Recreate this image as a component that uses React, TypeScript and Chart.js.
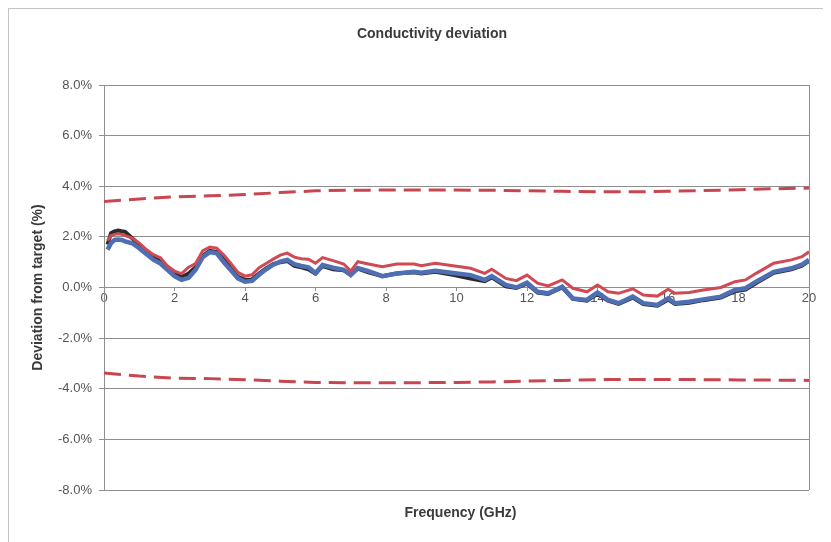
import React, { useEffect, useRef } from "react";
import { Chart, registerables } from "chart.js";

Chart.register(...registerables);

const CHART_TITLE = "Conductivity deviation";
const X_TITLE = "Frequency (GHz)";
const Y_TITLE = "Deviation from target (%)";

const xTicks = [0, 2, 4, 6, 8, 10, 12, 14, 16, 18, 20];
const yTicks = [-8, -6, -4, -2, 0, 2, 4, 6, 8];

const freqGHz = [
  0.1, 0.2, 0.3, 0.4, 0.5, 0.6, 0.8, 1.0, 1.2, 1.4, 1.6, 1.8, 2.0, 2.2, 2.4, 2.6, 2.8, 3.0, 3.2, 3.4,
  3.6, 3.8, 4.0, 4.2, 4.4, 4.6, 4.8, 5.0, 5.2, 5.4, 5.6, 5.8, 6.0, 6.2, 6.5, 6.8, 7.0, 7.2, 7.5, 7.9,
  8.3, 8.8, 9.0, 9.4, 9.9, 10.4, 10.8, 11.0, 11.4, 11.7, 12.0, 12.3, 12.6, 13.0, 13.3, 13.7, 14.0, 14.3,
  14.6, 15.0, 15.3, 15.7, 16.0, 16.2, 16.6, 17.0, 17.5, 17.9, 18.2, 18.5, 19.0, 19.5, 19.8, 20.0,
];

const seriesRed = [
  1.85, 2.05, 2.1, 2.12, 2.1, 2.05, 1.95, 1.75, 1.5, 1.3, 1.18, 0.85, 0.65, 0.55, 0.8, 0.95, 1.45, 1.6, 1.55, 1.28,
  0.95, 0.6, 0.45, 0.5, 0.78, 0.95, 1.12, 1.28, 1.36, 1.2, 1.14, 1.12, 0.96, 1.18, 1.06, 0.93, 0.65, 1.02, 0.93, 0.82,
  0.93, 0.93, 0.86, 0.96, 0.86, 0.76, 0.56, 0.72, 0.36, 0.27, 0.49, 0.17, 0.06, 0.3, -0.03, -0.17, 0.1, -0.17,
  -0.23, -0.05, -0.3, -0.34, -0.07, -0.23, -0.2, -0.1, 0.0, 0.23, 0.3, 0.56, 0.96, 1.09, 1.22, 1.41,
];

const seriesBlue = [
  1.5, 1.75, 1.88, 1.9, 1.88, 1.82, 1.75, 1.55, 1.32, 1.1, 0.95, 0.7, 0.45, 0.3, 0.38, 0.7, 1.2, 1.4, 1.35, 1.0,
  0.68, 0.36, 0.23, 0.26, 0.5, 0.72, 0.9, 1.02, 1.09, 0.92, 0.85, 0.8, 0.57, 0.89, 0.78, 0.7, 0.49, 0.77, 0.65, 0.45,
  0.55, 0.62, 0.58, 0.66, 0.57, 0.49, 0.3, 0.45, 0.1, 0.0, 0.19, -0.17, -0.23, 0.03, -0.43, -0.49, -0.2, -0.49,
  -0.62, -0.36, -0.62, -0.69, -0.43, -0.62, -0.56, -0.47, -0.36, -0.1, -0.03, 0.23, 0.62, 0.76, 0.9, 1.09,
];

const seriesBlack = [
  1.7, 2.15, 2.22, 2.25, 2.22, 2.2, 1.95, 1.7, 1.45, 1.22, 1.0, 0.8, 0.55, 0.4, 0.55, 0.8, 1.25, 1.45, 1.4, 1.1,
  0.75, 0.42, 0.3, 0.32, 0.55, 0.75, 0.92, 1.0, 1.05, 0.85, 0.8, 0.72, 0.55, 0.85, 0.72, 0.68, 0.5, 0.75, 0.6, 0.45,
  0.55, 0.6, 0.55, 0.62, 0.5, 0.35, 0.25, 0.4, 0.05, -0.02, 0.15, -0.2, -0.25, 0.0, -0.45, -0.52, -0.25, -0.52,
  -0.65, -0.4, -0.65, -0.72, -0.48, -0.65, -0.6, -0.5, -0.4, -0.15, -0.08, 0.18, 0.58, 0.72, 0.86, 1.05,
];

const limitFreqGHz = [0, 1, 2, 3, 4, 5, 6, 7, 8, 9, 10, 11, 12, 13, 14, 15, 16, 17, 18, 19, 20];
const upperLimit = [3.4, 3.5, 3.58, 3.62, 3.67, 3.75, 3.82, 3.84, 3.85, 3.85, 3.85, 3.84, 3.82, 3.8, 3.78, 3.78, 3.8, 3.83, 3.86, 3.9, 3.93];
const lowerLimit = [-3.38, -3.5, -3.58, -3.6, -3.64, -3.7, -3.75, -3.76, -3.76, -3.76, -3.75, -3.73, -3.7, -3.67, -3.64, -3.63, -3.63, -3.64, -3.65, -3.66, -3.67];

const FONT = 'Arial, "Liberation Sans", sans-serif';
const GRID = "#8e8e8e";
const TEXT = "#555555";

const pts = (xs: number[], ys: number[]) => xs.map((x, i) => ({ x, y: ys[i] }));

const framePlugin = {
  id: "frameAndTitles",
  beforeDatasetsDraw(chart: any) {
    const { ctx, chartArea: a } = chart;
    ctx.save();
    ctx.strokeStyle = GRID;
    ctx.lineWidth = 1;
    const rx = Math.round(a.right) + 0.5;
    ctx.beginPath();
    ctx.moveTo(rx, a.top);
    ctx.lineTo(rx, a.bottom);
    ctx.stroke();
    ctx.restore();
  },
  afterDraw(chart: any) {
    const { ctx, chartArea: a } = chart;
    ctx.save();
    ctx.fillStyle = "#3a3a3a";
    ctx.textAlign = "center";
    ctx.textBaseline = "middle";
    ctx.font = `bold 14px ${FONT}`;
    ctx.fillText(CHART_TITLE, 423, 25);
    ctx.fillText(X_TITLE, (a.left + a.right) / 2 + 4, 504);
    ctx.restore();
  },
};

export default function App() {
  const ref = useRef<HTMLCanvasElement | null>(null);

  useEffect(() => {
    if (!ref.current) return;
    const chart = new Chart(ref.current, {
      type: "line",
      data: {
        datasets: [
          {
            label: "Red",
            data: pts(freqGHz, seriesRed),
            borderColor: "#d04a55",
            borderWidth: 3,
            pointRadius: 0,
            tension: 0,
            order: 1,
          },
          {
            label: "Blue",
            data: pts(freqGHz, seriesBlue),
            borderColor: "#4e6fb4",
            borderWidth: 4.5,
            pointRadius: 0,
            tension: 0,
            order: 2,
          },
          {
            label: "Black",
            data: pts(freqGHz, seriesBlack),
            borderColor: "#2a2a2a",
            borderWidth: 4,
            pointRadius: 0,
            tension: 0,
            order: 3,
          },
          {
            label: "Upper limit",
            data: pts(limitFreqGHz, upperLimit),
            borderColor: "#c8464f",
            borderWidth: 3,
            borderDash: [17, 8],
            pointRadius: 0,
            tension: 0,
            order: 4,
          },
          {
            label: "Lower limit",
            data: pts(limitFreqGHz, lowerLimit),
            borderColor: "#c8464f",
            borderWidth: 3,
            borderDash: [17, 8],
            pointRadius: 0,
            tension: 0,
            order: 4,
          },
        ],
      },
      options: {
        animation: false,
        responsive: true,
        maintainAspectRatio: false,
        layout: { padding: { top: 76, bottom: 52, right: 22, left: 0 } },
        plugins: {
          legend: { display: false },
          tooltip: { enabled: false },
          title: { display: false },
        },
        scales: {
          x: {
            type: "linear",
            position: { y: 0 } as any,
            min: 0,
            max: 20,
            afterBuildTicks: (s: any) => {
              s.ticks = xTicks.map((v) => ({ value: v }));
            },
            ticks: {
              autoSkip: false,
              maxRotation: 0,
              padding: 0,
              color: TEXT,
              font: { family: FONT, size: 13 },
            },
            grid: { display: true, drawOnChartArea: false, drawTicks: true, tickLength: 3, color: GRID },
            border: { display: true, color: GRID },
          },
          y: {
            type: "linear",
            min: -8,
            max: 8,
            afterBuildTicks: (s: any) => {
              s.ticks = yTicks.map((v) => ({ value: v }));
            },
            afterFit: (s: any) => {
              s.width = 95;
            },
            ticks: {
              padding: 7,
              color: TEXT,
              font: { family: FONT, size: 13 },
              callback: (v: any) => Number(v).toFixed(1) + "%",
            },
            grid: { color: GRID, tickLength: 5, lineWidth: 1 },
            border: { display: true, color: GRID },
            title: {
              display: true,
              text: Y_TITLE,
              color: "#3a3a3a",
              padding: 21,
              font: { family: FONT, size: 14, weight: "bold" },
            },
          },
        },
      },
      plugins: [framePlugin],
    });
    return () => chart.destroy();
  }, []);

  return (
    <div
      style={{
        width: 823,
        height: 534,
        boxSizing: "border-box",
        borderLeft: "1px solid #c4c4c4",
        borderTop: "1px solid #c4c4c4",
        background: "#fff",
      }}
    >
      <canvas ref={ref} />
    </div>
  );
}
